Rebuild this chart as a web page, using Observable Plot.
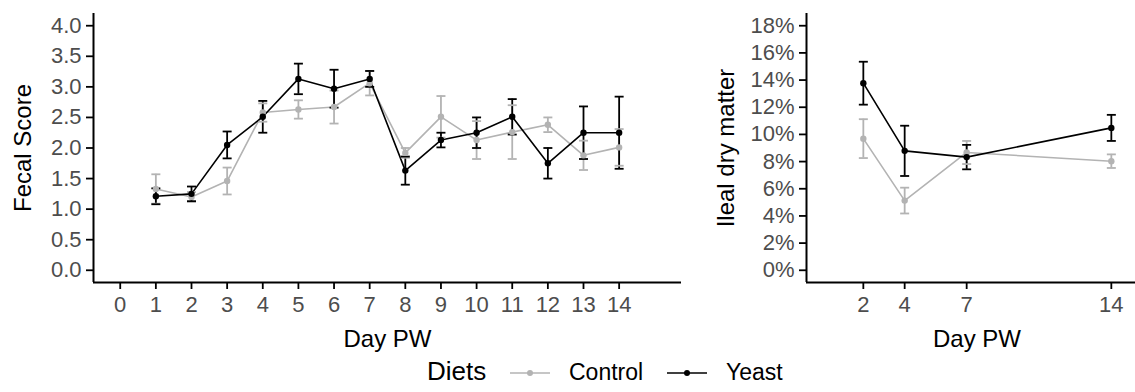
<!DOCTYPE html>
<html>
<head>
<meta charset="utf-8">
<script src="https://cdn.jsdelivr.net/npm/d3@7"></script>
<script src="https://cdn.jsdelivr.net/npm/@observablehq/plot@0.6"></script>
<style>
  html, body { margin: 0; padding: 0; background: #fff; }
  #chart { position: relative; width: 1135px; height: 392px; overflow: hidden;
           font-family: "Liberation Sans", Arial, sans-serif; }
  #chart > svg, #chart > figure { position: absolute; top: 0; margin: 0; }
  #chart [aria-label$="tick label"] { fill: #4d4d4d; }
</style>
</head>
<body>
<div id="chart"></div>
<script>
// Diet groups and their colours
const diets = ["Control", "Yeast"];
const dietColors = ["#b3b3b3", "#000000"];

// Fecal score by day post-weaning (mean and standard error)
const fecalDays = [1, 2, 3, 4, 5, 6, 7, 8, 9, 10, 11, 12, 13, 14];
const fecalControl   = [1.33, 1.20, 1.46, 2.58, 2.63, 2.67, 3.06, 1.92, 2.51, 2.13, 2.26, 2.38, 1.88, 2.01];
const fecalControlSE = [0.24, 0.08, 0.22, 0.15, 0.15, 0.27, 0.20, 0.08, 0.34, 0.31, 0.44, 0.12, 0.24, 0.30];
const fecalYeast     = [1.21, 1.25, 2.05, 2.51, 3.13, 2.97, 3.13, 1.63, 2.13, 2.25, 2.51, 1.75, 2.25, 2.25];
const fecalYeastSE   = [0.13, 0.12, 0.22, 0.26, 0.25, 0.31, 0.13, 0.23, 0.12, 0.25, 0.29, 0.25, 0.43, 0.59];

// Ileal dry matter (%) by day post-weaning
const ilealDays = [2, 4, 7, 14];
const ilealControl   = [9.69, 5.13, 8.67, 8.03];
const ilealControlSE = [1.43, 0.95, 0.85, 0.50];
const ilealYeast     = [13.77, 8.79, 8.33, 10.48];
const ilealYeastSE   = [1.58, 1.85, 0.90, 0.96];

// Axis ticks
const fecalXTicks = d3.range(0, 15);
const fecalYTicks = [0, 0.5, 1, 1.5, 2, 2.5, 3, 3.5, 4];
const ilealXTicks = [2, 4, 7, 14];
const ilealYTicks = [0, 2, 4, 6, 8, 10, 12, 14, 16, 18];

function rowsOf(days, series) {
  const rows = [];
  series.forEach(([diet, means, ses]) => {
    days.forEach((day, i) => rows.push({day, diet, mean: means[i], lo: means[i] - ses[i], hi: means[i] + ses[i]}));
  });
  return rows;
}

const fecalRows = rowsOf(fecalDays, [["Control", fecalControl, fecalControlSE], ["Yeast", fecalYeast, fecalYeastSE]]);
const ilealRows = rowsOf(ilealDays, [["Control", ilealControl, ilealControlSE], ["Yeast", ilealYeast, ilealYeastSE]]);

// Horizontal stroke used as the error-bar cap
const capSymbol = {
  draw(context, size) {
    const w = Math.sqrt(size / Math.PI);
    context.moveTo(-w, 0);
    context.lineTo(w, 0);
  }
};

function panel({rows, xDomain, xTicks, yDomain, yTicks, yFormat, yLabel, width, marginLeft, marginRight, yLabelDx}) {
  return Plot.plot({
    width, height: 350,
    marginLeft, marginRight, marginTop: 13, marginBottom: 68,
    style: {fontFamily: "'Liberation Sans', Arial, sans-serif", fontSize: "22px", color: "black", background: "transparent", overflow: "visible"},
    x: {domain: xDomain},
    y: {domain: yDomain},
    color: {domain: diets, range: dietColors},
    marks: [
      Plot.ruleX([xDomain[0]], {stroke: "black", strokeWidth: 2}),
      Plot.ruleY([yDomain[0]], {stroke: "black", strokeWidth: 2}),
      Plot.axisX({ticks: xTicks, tickSize: 7, tickPadding: 7, tickFormat: d3.format("d"), label: null, strokeWidth: 1.8}),
      Plot.axisY({ticks: yTicks, tickSize: 7, tickPadding: 5, tickFormat: yFormat, label: null, strokeWidth: 1.8}),
      Plot.line(rows, {x: "day", y: "mean", stroke: "diet", strokeWidth: 1.6}),
      Plot.ruleX(rows, {x: "day", y1: "lo", y2: "hi", stroke: "diet", strokeWidth: 1.8}),
      Plot.dot(rows, {x: "day", y: "lo", symbol: capSymbol, r: 4.5, stroke: "diet", strokeWidth: 1.8}),
      Plot.dot(rows, {x: "day", y: "hi", symbol: capSymbol, r: 4.5, stroke: "diet", strokeWidth: 1.8}),
      Plot.dot(rows, {x: "day", y: "mean", fill: "diet", r: 3.2}),
      Plot.text(["Day PW"], {frameAnchor: "bottom", lineAnchor: "middle", dy: 57, text: d => d, fontSize: 24, fill: "black"}),
      Plot.text([yLabel], {frameAnchor: "left", textAnchor: "middle", dx: yLabelDx, rotate: -90, text: d => d, fontSize: 24, fill: "black"})
    ]
  });
}

const chart = document.getElementById("chart");

const fecal = panel({
  rows: fecalRows, xDomain: [-0.75, 15.75], xTicks: fecalXTicks,
  yDomain: [-0.2, 4.2], yTicks: fecalYTicks, yFormat: d3.format(".1f"),
  yLabel: "Fecal Score", width: 700, marginLeft: 93, marginRight: 19, yLabelDx: -70
});
fecal.style.left = "0px";
chart.appendChild(fecal);

const ileal = panel({
  rows: ilealRows, xDomain: [-0.75, 15.75], xTicks: ilealXTicks,
  yDomain: [-0.9, 18.9], yTicks: ilealYTicks, yFormat: d => d + "%",
  yLabel: "Ileal dry matter", width: 457, marginLeft: 106, marginRight: 10, yLabelDx: -80
});
ileal.style.left = "700px";
chart.appendChild(ileal);

// Legend below both panels
const ns = "http://www.w3.org/2000/svg";
const legend = document.createElementNS(ns, "svg");
legend.setAttribute("width", 1135);
legend.setAttribute("height", 52);
legend.style.position = "absolute";
legend.style.left = "0px";
legend.style.top = "340px";
legend.style.fontFamily = "'Liberation Sans', Arial, sans-serif";
function addText(x, y, str, size) {
  const t = document.createElementNS(ns, "text");
  t.setAttribute("x", x); t.setAttribute("y", y);
  t.setAttribute("font-size", size); t.setAttribute("fill", "black");
  t.textContent = str;
  legend.appendChild(t);
}
function addKey(x0, color) {
  const l = document.createElementNS(ns, "line");
  l.setAttribute("x1", x0); l.setAttribute("x2", x0 + 40);
  l.setAttribute("y1", 33); l.setAttribute("y2", 33);
  l.setAttribute("stroke", color); l.setAttribute("stroke-width", 1.6);
  legend.appendChild(l);
  const c = document.createElementNS(ns, "circle");
  c.setAttribute("cx", x0 + 20); c.setAttribute("cy", 33); c.setAttribute("r", 3);
  c.setAttribute("fill", color);
  legend.appendChild(c);
}
addText(427, 40, "Diets", 26);
addKey(510, dietColors[0]);
addText(569, 40, diets[0], 23);
addKey(667, dietColors[1]);
addText(726, 40, diets[1], 23);
chart.appendChild(legend);
</script>
</body>
</html>
